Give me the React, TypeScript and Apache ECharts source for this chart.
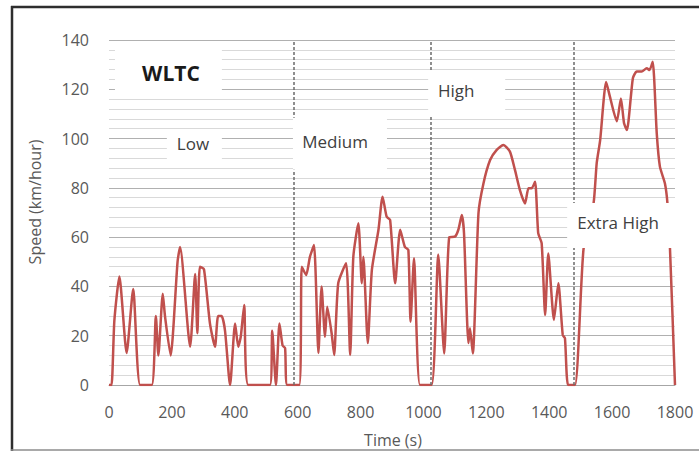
import React, { useEffect, useRef } from "react";
import * as echarts from "echarts";

// WLTC speed trace (time in s, speed in km/h)
const timeS = [
  0, 8, 17, 33, 56, 77, 99, 136, 149, 157, 171, 178, 196, 218, 226, 258, 274, 281, 289, 302, 321, 337, 347, 358, 369, 385, 401, 411, 419, 430, 443, 512, 519, 531, 542, 552, 560, 567, 605,
  613, 627, 639, 652, 666, 676, 687, 694, 708, 716, 729, 754, 767, 777, 793, 804, 809, 823, 836, 857, 870, 883, 894, 910, 926, 941, 952, 959, 970, 989, 1026,
  1047, 1066, 1082, 1100, 1111, 1122, 1129, 1143, 1148, 1157, 1175, 1191, 1212, 1233, 1254, 1275, 1291, 1307, 1323, 1334, 1344, 1355, 1365, 1376, 1387, 1397, 1415, 1429, 1443, 1450, 1460, 1482,
  1509, 1541, 1551, 1562, 1581, 1593, 1615, 1628, 1638, 1647, 1666, 1678, 1694, 1710, 1719, 1729, 1742, 1752, 1768, 1776, 1784, 1800,
];
const speedKmh = [
  0, 0, 26, 44, 13, 39, 0, 0, 28, 12, 37, 28, 12, 50, 56, 15.5, 45, 21, 48, 47, 25, 15.5, 28, 28, 22, 0, 25, 15.5, 19.6, 32.5, 0, 0, 22, 0, 25, 16, 15, 0, 0,
  48, 44.6, 52, 56.8, 13, 40, 19.6, 31.8, 21, 12.2, 41.3, 49.4, 12.2, 52, 65.6, 41.3, 52, 17, 46.7, 63, 76.4, 68.3, 67, 41.3, 63, 56, 54.8, 25.7, 51.4, 0, 0,
  53, 12.8, 60, 60.2, 63, 69, 61.7, 17, 23, 12.8, 69.7, 81.9, 91.3, 95.4, 97.4, 94.7, 87.3, 79, 73.7, 79.8, 79.8, 82.5, 61.6, 57.5, 28.4, 53.4, 26.4, 41.3, 20.3, 19, 0, 0,
  55, 73.7, 90, 99.4, 123, 117, 107, 116.3, 106.2, 103.5, 124.5, 127.2, 127.2, 128.5, 127.8, 131.2, 102, 88.6, 81.8, 73.7, 55.5, 0,
];
const phaseBounds = [589, 1022, 1477];
const phaseNames = ["WLTC", "Low", "Medium", "High", "Extra High"];
const xTitle = "Time (s)";
const yTitle = "Speed (km/hour)";

// annotation boxes in data units: [t0, v0, t1, v1], label anchor [t, v]
const labelBoxes = [
  { box: [19, 118, 359, 138.5], at: [197, 126.6], bold: true },
  { box: [184, 90, 359, 102.5], at: [267, 97.8], bold: false },
  { box: [585, 87.3, 884, 108.4], at: [719, 99], bold: false },
  { box: [1015, 108.8, 1260, 127.8], at: [1104, 119.7], bold: false },
  { box: [1457, 55.6, 1800, 73.9], at: [1619, 66], bold: false },
];

const FONT = "'Open Sans', 'DejaVu Sans', sans-serif";

export default function App() {
  const ref = useRef<HTMLDivElement>(null);
  useEffect(() => {
    if (!ref.current) return;
    const chart = echarts.init(ref.current, null, { renderer: "svg" });
    const pts = timeS.map((t, i) => [t, speedKmh[i]]);
    chart.setOption({
      animation: false,
      backgroundColor: "#ffffff",
      grid: { left: 109, right: 24, top: 40, bottom: 67 },
      xAxis: {
        type: "value",
        min: 0,
        max: 1800,
        interval: 200,
        axisLine: { show: true, lineStyle: { color: "#a6a6a6", width: 1 } },
        axisTick: { show: false },
        splitLine: { show: false },
        axisLabel: {
          fontFamily: FONT,
          fontSize: 16,
          color: "#595959",
          margin: 19,
          formatter: (v: number) => String(v),
        },
      },
      yAxis: {
        type: "value",
        min: 0,
        max: 140,
        interval: 20,
        axisLine: { show: false },
        axisTick: { show: false },
        splitLine: { show: true, lineStyle: { color: "#b0b0b0", width: 1 } },
        minorTick: { show: false, splitNumber: 5 },
        minorSplitLine: { show: true, lineStyle: { color: "#d9d9d9", width: 1 } },
        axisLabel: { fontFamily: FONT, fontSize: 16, color: "#595959", margin: 20 },
      },
      series: [
        {
          type: "line",
          data: pts,
          symbol: "none",
          smooth: 0.2,
          z: 3,
          lineStyle: { color: "#c0504d", width: 2.5 },
          markLine: {
            silent: true,
            symbol: ["none", "none"],
            label: { show: false },
            lineStyle: { color: "#6b6b6b", type: [3, 2], width: 1.5 },
            data: phaseBounds.map((x) => ({ xAxis: x })),
          },
        },
      ],
    });

    const toPx = (t: number, v: number) => chart.convertToPixel({ gridIndex: 0 }, [t, v]) as number[];
    const elements: any[] = [];
    labelBoxes.forEach((b, i) => {
      const p0 = toPx(b.box[0], b.box[3]);
      const p1 = toPx(b.box[2], b.box[1]);
      elements.push({
        type: "rect",
        z: 50,
        shape: { x: p0[0], y: p0[1], width: p1[0] - p0[0], height: p1[1] - p0[1] },
        style: { fill: "#ffffff" },
      });
      const a = toPx(b.at[0], b.at[1]);
      elements.push({
        type: "text",
        z: 51,
        x: a[0],
        y: a[1],
        style: {
          text: phaseNames[i],
          fontFamily: FONT,
          fontSize: b.bold ? 21 : 17,
          fontWeight: b.bold ? "bold" : "normal",
          fill: b.bold ? "#1a1a1a" : "#404040",
          align: "center",
          verticalAlign: "middle",
        },
      });
    });
    elements.push(
      {
        type: "text",
        z: 51,
        x: 393,
        y: 440,
        style: { text: xTitle, fontFamily: FONT, fontSize: 16, fill: "#595959", align: "center", verticalAlign: "middle" },
      },
      {
        type: "text",
        z: 51,
        x: 35,
        y: 202,
        rotation: Math.PI / 2,
        style: { text: yTitle, fontFamily: FONT, fontSize: 16, fill: "#595959", align: "center", verticalAlign: "middle" },
      },
      { type: "line", z: 60, shape: { x1: 11, y1: 7, x2: 699, y2: 7 }, style: { stroke: "#2e2e2e", lineWidth: 2.5 } },
      { type: "line", z: 60, shape: { x1: 12, y1: 6, x2: 12, y2: 451 }, style: { stroke: "#2e2e2e", lineWidth: 2.5 } },
      { type: "line", z: 60, shape: { x1: 11, y1: 450, x2: 699, y2: 450 }, style: { stroke: "#8c8c8c", lineWidth: 1.5 } }
    );
    chart.setOption({ graphic: elements });
    return () => chart.dispose();
  }, []);
  return <div ref={ref} style={{ position: "fixed", left: 0, top: 0, width: 699, height: 452 }} />;
}
